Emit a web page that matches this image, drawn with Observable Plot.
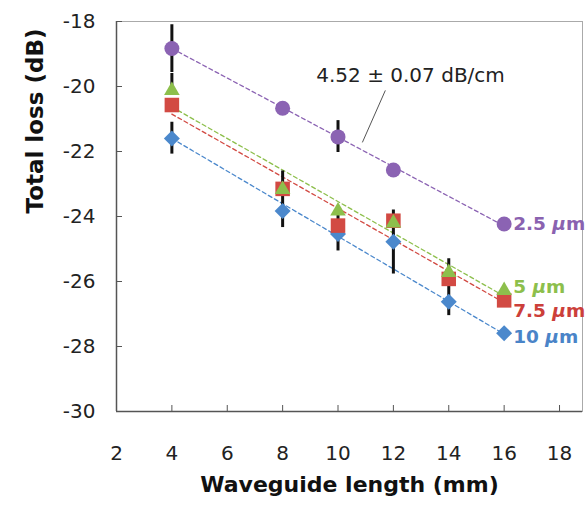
<!DOCTYPE html>
<html><head><meta charset="utf-8">
<script src="https://cdn.jsdelivr.net/npm/d3@7"></script>
<script src="https://cdn.jsdelivr.net/npm/@observablehq/plot@0.6"></script>
<style>
body{margin:0;background:#fff}
svg{font-family:"DejaVu Sans",sans-serif}
</style>
</head><body><div id="chart"></div><script>
// ---- data ----
const xTicks = [2, 4, 6, 8, 10, 12, 14, 16, 18];
const yTicks = [-30, -28, -26, -24, -22, -20, -18];

const seriesNames = ["2.5 µm", "5 µm", "7.5 µm", "10 µm"];
const len25 = [4, 8, 10, 12, 16];
const loss25 = [-18.83, -20.67, -21.55, -22.57, -24.23];
const len = [4, 8, 10, 12, 14, 16];
const loss5 = [-20.12, -23.17, -23.83, -24.2, -25.72, -26.28];
const loss75 = [-20.57, -23.15, -24.28, -24.13, -25.92, -26.58];
const loss10 = [-21.6, -23.83, -24.54, -24.78, -26.62, -27.59];

// dashed linear-fit lines: start (x=4) and end (x=16) values
const fitX = [4, 16];
const fit25 = [-18.83, -24.29];
const fit5 = [-20.63, -26.45];
const fit75 = [-20.85, -26.65];
const fit10 = [-21.6, -27.62];

// error bars
const barX = [4, 4, 4, 8, 10, 10, 12, 14];
const barLo = [-19.57, -20.1, -22.08, -24.34, -22.03, -25.06, -25.77, -27.05];
const barHi = [-18.1, -19.6, -21.1, -22.6, -21.05, -23.76, -23.8, -25.3];

// series end labels
const labelX = [16, 16, 16, 16];
const labelY = [-24.23, -26.16, -26.92, -27.72];

const annotationText = "4.52 ± 0.07 dB/cm";
const annotationPos = {x: 12.62, y: -19.66};
const leader = {x1: 11.71, y1: -20.12, x2: 10.88, y2: -21.72};

const colors = ["#8b63b3", "#8dbf4c", "#d24a43", "#4b88cc"];
const labelColors = ["#8a62b0", "#8dbf4c", "#cc3f3a", "#4a84c8"];

// ---- tables ----
const pts = (xs, ys) => xs.map((x, i) => ({x, y: ys[i]}));
const bars = barX.map((x, i) => ({x, y1: barLo[i], y2: barHi[i]}));
const labels = seriesNames.map((t, i) => ({x: labelX[i], y: labelY[i], t, c: labelColors[i]}));
const fits = [fit25, fit5, fit75, fit10];

const dashed = (ys, c) => Plot.line(pts(fitX, ys), {x: "x", y: "y", stroke: c, strokeWidth: 1.3, strokeDasharray: "4,3"});
const fmt = d => String(d);

const svg = Plot.plot({
  width: 585, height: 505,
  marginLeft: 116, marginRight: 3, marginTop: 21, marginBottom: 94,
  x: {domain: [2, 18.83]},
  y: {domain: [-30, -18]},
  style: {fontFamily: "'DejaVu Sans', sans-serif", color: "#222", background: "#fff"},
  marks: [
    Plot.frame({stroke: "#aaa", strokeWidth: 1}),
    Plot.ruleX([2], {stroke: "#555", strokeWidth: 1.5}),
    Plot.ruleY([-30], {stroke: "#555", strokeWidth: 1.5}),
    Plot.axisY(yTicks, {tickSize: 0, tickPadding: 21, fontSize: 20, tickFormat: fmt, label: null}),
    Plot.axisY(yTicks, {tickSize: 6, dx: 6, tickFormat: () => "", label: null, stroke: "#555"}),
    Plot.axisX(xTicks, {tickSize: 0, tickPadding: 34, fontSize: 20, tickFormat: fmt, label: null}),
    Plot.axisX(xTicks, {tickSize: 6, dy: -6, tickFormat: () => "", label: null, stroke: "#555"}),
    Plot.text([0], {frameAnchor: "bottom", text: () => "Waveguide length (mm)", dy: 80, fontWeight: "bold", fontSize: 22, fill: "#111"}),
    Plot.text([0], {frameAnchor: "left", text: () => "Total loss (dB)", rotate: -90, dx: -81, dy: -3, fontWeight: "bold", fontSize: 23, fill: "#111"}),
    ...fits.map((f, i) => dashed(f, colors[i])),
    Plot.ruleX(bars, {x: "x", y1: "y1", y2: "y2", stroke: "#111", strokeWidth: 3}),
    Plot.dot(pts(len25, loss25), {x: "x", y: "y", symbol: "circle", r: 7.5, fill: colors[0]}),
    Plot.dot(pts(len, loss10), {x: "x", y: "y", symbol: d3.symbolDiamond2, r: 7.2, fill: colors[3]}),
    Plot.dot(pts(len, loss75), {x: "x", y: "y", symbol: "square", r: 8.2, fill: colors[2]}),
    Plot.dot(pts(len, loss5), {x: "x", y: "y", symbol: "triangle", r: 5.8, fill: colors[1]}),
    Plot.link([leader], {x1: "x1", y1: "y1", x2: "x2", y2: "y2", stroke: "#555", strokeWidth: 1}),
    Plot.text([annotationPos], {x: "x", y: "y", text: () => annotationText, fontSize: 20, fill: "#222"}),
    Plot.text(labels, {x: "x", y: "y", text: "t", fill: "c", dx: 9, textAnchor: "start", fontWeight: "bold", fontSize: 18.5})
  ]
});

d3.select(svg).selectAll("text").each(function () {
  const t = this.textContent;
  const i = t.indexOf("µ");
  if (i >= 0 && this.childElementCount === 0) {
    const s = d3.select(this);
    s.text(null);
    s.append("tspan").text(t.slice(0, i));
    s.append("tspan").attr("font-style", "italic").text("µ");
    s.append("tspan").text(t.slice(i + 1));
  }
});

document.getElementById("chart").appendChild(svg);
</script></body></html>
